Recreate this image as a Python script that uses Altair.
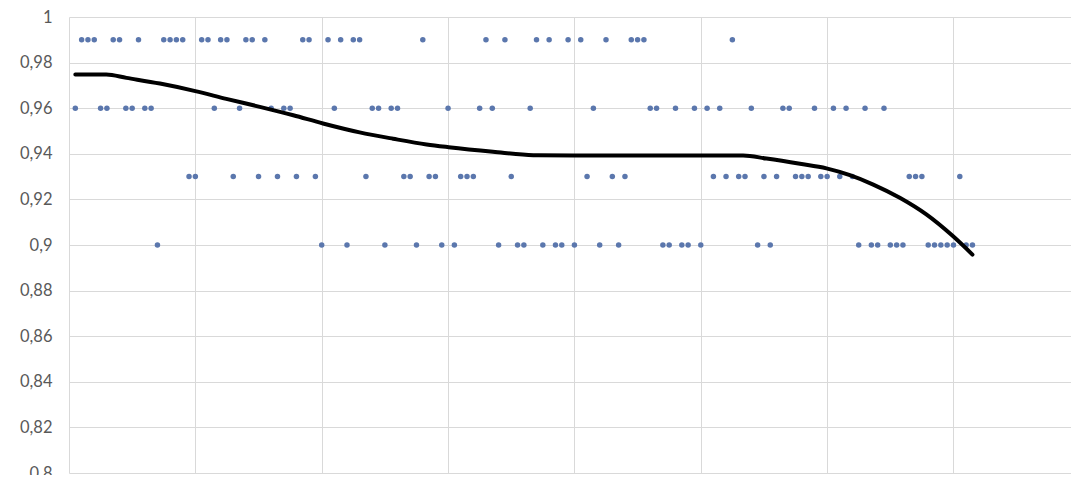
import altair as alt
import pandas as pd

# One score per observation, observations numbered 1..N along x
scores = [
    0.96, 0.99, 0.99, 0.99, 0.96, 0.96, 0.99, 0.99, 0.96, 0.96,
    0.99, 0.96, 0.96, 0.90, 0.99, 0.99, 0.99, 0.99, 0.93, 0.93,
    0.99, 0.99, 0.96, 0.99, 0.99, 0.93, 0.96, 0.99, 0.99, 0.93,
    0.99, 0.96, 0.93, 0.96, 0.96, 0.93, 0.99, 0.99, 0.93, 0.90,
    0.99, 0.96, 0.99, 0.90, 0.99, 0.99, 0.93, 0.96, 0.96, 0.90,
    0.96, 0.96, 0.93, 0.93, 0.90, 0.99, 0.93, 0.93, 0.90, 0.96,
    0.90, 0.93, 0.93, 0.93, 0.96, 0.99, 0.96, 0.90, 0.99, 0.93,
    0.90, 0.90, 0.96, 0.99, 0.90, 0.99, 0.90, 0.90, 0.99, 0.90,
    0.99, 0.93, 0.96, 0.90, 0.99, 0.93, 0.90, 0.93, 0.99, 0.99,
    0.99, 0.96, 0.96, 0.90, 0.90, 0.96, 0.90, 0.90, 0.96, 0.90,
    0.96, 0.93, 0.96, 0.93, 0.99, 0.93, 0.93, 0.96, 0.90, 0.93,
    0.90, 0.93, 0.96, 0.96, 0.93, 0.93, 0.93, 0.96, 0.93, 0.93,
    0.96, 0.93, 0.96, 0.93, 0.90, 0.96, 0.90, 0.90, 0.96, 0.90,
    0.90, 0.90, 0.93, 0.93, 0.93, 0.90, 0.90, 0.90, 0.90, 0.90,
    0.93, 0.90, 0.90,
]

# Smoothed trend through the scores
trend_x = [1, 5.9, 9.1, 14.4, 20.0, 24.9, 30.2, 35.5, 40.2, 46.0, 51.3,
           56.6, 60.1, 67.1, 73.5, 80, 90, 100, 106.7, 110.4, 115.7, 119.9,
           123.6, 127.3, 131.5, 135.7, 139.9, 143]
trend_y = [0.9748, 0.9748, 0.9733, 0.9708, 0.9675, 0.9641, 0.9606, 0.9569,
           0.9533, 0.9494, 0.9466, 0.9441, 0.9429, 0.9409, 0.9394, 0.9393,
           0.9393, 0.9393, 0.9393, 0.9379, 0.9356, 0.9336, 0.9306, 0.9265,
           0.9207, 0.9134, 0.9039, 0.8958]

y_ticks = [0.8, 0.82, 0.84, 0.86, 0.88, 0.9, 0.92, 0.94, 0.96, 0.98, 1.0]
x_grid = [0, 20, 40, 60, 80, 100, 120, 140, 160]

points = pd.DataFrame({"n": list(range(1, len(scores) + 1)), "v": scores})
trend = pd.DataFrame({"n": trend_x, "v": trend_y})

GRID = "#d9d9d9"

x_enc = alt.X(
    "n:Q",
    scale=alt.Scale(domain=[0, 158.6], nice=False, zero=False),
    axis=alt.Axis(values=x_grid, labels=False, ticks=False, domain=False,
                  grid=True, gridColor=GRID, gridWidth=1, title=None),
)
y_enc = alt.Y(
    "v:Q",
    scale=alt.Scale(domain=[0.8, 1.0], nice=False, zero=False),
    axis=alt.Axis(values=y_ticks,
                  labelExpr="replace(format(datum.value, '.2~f'), '.', ',')",
                  ticks=False, domain=False, grid=True, gridColor=GRID,
                  gridWidth=1, labelPadding=17, title=None),
)

dots = alt.Chart(points).mark_circle(size=30, color="#5b77ad", opacity=1).encode(
    x=x_enc, y=y_enc
)

line = alt.Chart(trend).mark_line(
    color="#000000", strokeWidth=4, interpolate="monotone", strokeCap="round"
).encode(x=x_enc, y=y_enc)

chart = (
    alt.layer(dots, line)
    .properties(
        width=1002,
        height=456,
        autosize=alt.AutoSizeParams(type="none"),
        padding={"left": 69, "top": 17, "right": 0, "bottom": 2},
        background="#ffffff",
    )
    .configure_view(stroke=None)
    .configure_axis(labelFont="Lato", labelFontSize=16.5, labelColor="#595959")
)

chart.save("out.html", embed_options={"renderer": "svg", "actions": False})
